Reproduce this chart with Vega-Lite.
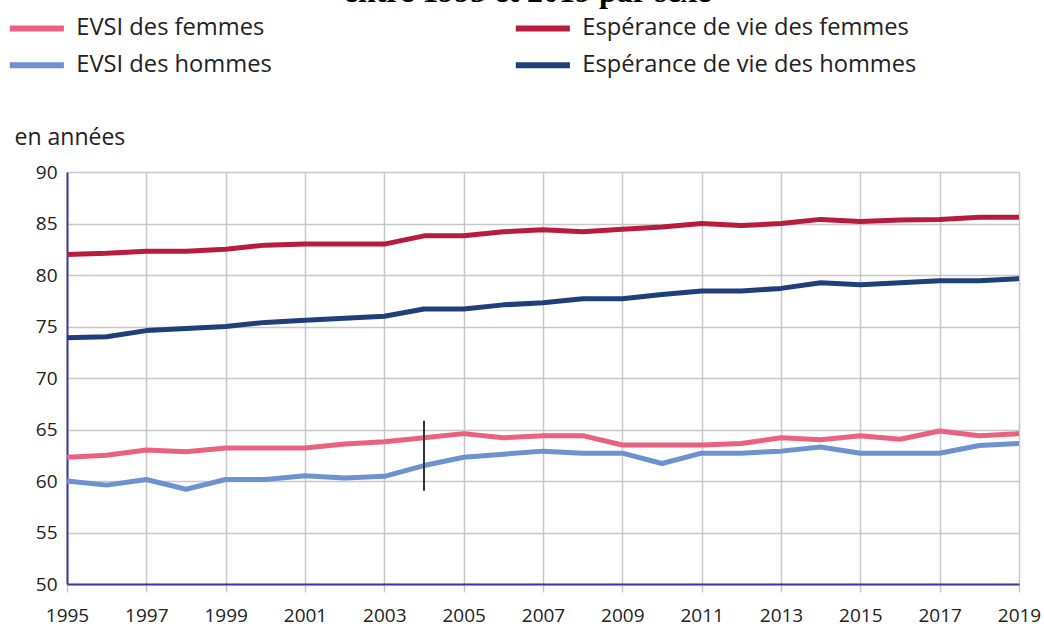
{
  "$schema": "https://vega.github.io/schema/vega-lite/v6.json",
  "width": 952,
  "height": 412,
  "autosize": {"type": "none"},
  "padding": {"left": 67, "top": 172, "right": 25, "bottom": 43},
  "background": "white",
  "config": {
    "view": {"stroke": null},
    "font": "Open Sans",
    "axis": {
      "labelFont": "Open Sans",
      "labelColor": "#222222",
      "labelFontSize": 19,
      "gridColor": "#c8c8c8",
      "gridWidth": 1.5,
      "domainColor": "#3a3a9e",
      "domainWidth": 2
    },
    "legend": {
      "labelFont": "Open Sans",
      "labelFontSize": 23.7,
      "labelColor": "#222222"
    }
  },
  "datasets": {
    "series": [
      {"year": 1995, "serie": "Espérance de vie des femmes", "value": 82.0},
      {"year": 1996, "serie": "Espérance de vie des femmes", "value": 82.1},
      {"year": 1997, "serie": "Espérance de vie des femmes", "value": 82.3},
      {"year": 1998, "serie": "Espérance de vie des femmes", "value": 82.3},
      {"year": 1999, "serie": "Espérance de vie des femmes", "value": 82.5},
      {"year": 2000, "serie": "Espérance de vie des femmes", "value": 82.9},
      {"year": 2001, "serie": "Espérance de vie des femmes", "value": 83.0},
      {"year": 2002, "serie": "Espérance de vie des femmes", "value": 83.0},
      {"year": 2003, "serie": "Espérance de vie des femmes", "value": 83.0},
      {"year": 2004, "serie": "Espérance de vie des femmes", "value": 83.8},
      {"year": 2005, "serie": "Espérance de vie des femmes", "value": 83.8},
      {"year": 2006, "serie": "Espérance de vie des femmes", "value": 84.2},
      {"year": 2007, "serie": "Espérance de vie des femmes", "value": 84.4},
      {"year": 2008, "serie": "Espérance de vie des femmes", "value": 84.2},
      {"year": 2009, "serie": "Espérance de vie des femmes", "value": 84.45},
      {"year": 2010, "serie": "Espérance de vie des femmes", "value": 84.65},
      {"year": 2011, "serie": "Espérance de vie des femmes", "value": 85.0},
      {"year": 2012, "serie": "Espérance de vie des femmes", "value": 84.8},
      {"year": 2013, "serie": "Espérance de vie des femmes", "value": 85.0},
      {"year": 2014, "serie": "Espérance de vie des femmes", "value": 85.4},
      {"year": 2015, "serie": "Espérance de vie des femmes", "value": 85.2},
      {"year": 2016, "serie": "Espérance de vie des femmes", "value": 85.35},
      {"year": 2017, "serie": "Espérance de vie des femmes", "value": 85.4},
      {"year": 2018, "serie": "Espérance de vie des femmes", "value": 85.6},
      {"year": 2019, "serie": "Espérance de vie des femmes", "value": 85.6},
      {"year": 1995, "serie": "Espérance de vie des hommes", "value": 73.9},
      {"year": 1996, "serie": "Espérance de vie des hommes", "value": 74.0},
      {"year": 1997, "serie": "Espérance de vie des hommes", "value": 74.6},
      {"year": 1998, "serie": "Espérance de vie des hommes", "value": 74.8},
      {"year": 1999, "serie": "Espérance de vie des hommes", "value": 75.0},
      {"year": 2000, "serie": "Espérance de vie des hommes", "value": 75.4},
      {"year": 2001, "serie": "Espérance de vie des hommes", "value": 75.6},
      {"year": 2002, "serie": "Espérance de vie des hommes", "value": 75.8},
      {"year": 2003, "serie": "Espérance de vie des hommes", "value": 76.0},
      {"year": 2004, "serie": "Espérance de vie des hommes", "value": 76.7},
      {"year": 2005, "serie": "Espérance de vie des hommes", "value": 76.7},
      {"year": 2006, "serie": "Espérance de vie des hommes", "value": 77.1},
      {"year": 2007, "serie": "Espérance de vie des hommes", "value": 77.3},
      {"year": 2008, "serie": "Espérance de vie des hommes", "value": 77.7},
      {"year": 2009, "serie": "Espérance de vie des hommes", "value": 77.7},
      {"year": 2010, "serie": "Espérance de vie des hommes", "value": 78.1},
      {"year": 2011, "serie": "Espérance de vie des hommes", "value": 78.45},
      {"year": 2012, "serie": "Espérance de vie des hommes", "value": 78.45},
      {"year": 2013, "serie": "Espérance de vie des hommes", "value": 78.7},
      {"year": 2014, "serie": "Espérance de vie des hommes", "value": 79.25},
      {"year": 2015, "serie": "Espérance de vie des hommes", "value": 79.05},
      {"year": 2016, "serie": "Espérance de vie des hommes", "value": 79.25},
      {"year": 2017, "serie": "Espérance de vie des hommes", "value": 79.45},
      {"year": 2018, "serie": "Espérance de vie des hommes", "value": 79.45},
      {"year": 2019, "serie": "Espérance de vie des hommes", "value": 79.65},
      {"year": 1995, "serie": "EVSI des femmes", "value": 62.3},
      {"year": 1996, "serie": "EVSI des femmes", "value": 62.5},
      {"year": 1997, "serie": "EVSI des femmes", "value": 63.0},
      {"year": 1998, "serie": "EVSI des femmes", "value": 62.85},
      {"year": 1999, "serie": "EVSI des femmes", "value": 63.2},
      {"year": 2000, "serie": "EVSI des femmes", "value": 63.2},
      {"year": 2001, "serie": "EVSI des femmes", "value": 63.2},
      {"year": 2002, "serie": "EVSI des femmes", "value": 63.6},
      {"year": 2003, "serie": "EVSI des femmes", "value": 63.8},
      {"year": 2004, "serie": "EVSI des femmes", "value": 64.2},
      {"year": 2005, "serie": "EVSI des femmes", "value": 64.6},
      {"year": 2006, "serie": "EVSI des femmes", "value": 64.2},
      {"year": 2007, "serie": "EVSI des femmes", "value": 64.4},
      {"year": 2008, "serie": "EVSI des femmes", "value": 64.4},
      {"year": 2009, "serie": "EVSI des femmes", "value": 63.5},
      {"year": 2010, "serie": "EVSI des femmes", "value": 63.5},
      {"year": 2011, "serie": "EVSI des femmes", "value": 63.5},
      {"year": 2012, "serie": "EVSI des femmes", "value": 63.65},
      {"year": 2013, "serie": "EVSI des femmes", "value": 64.2},
      {"year": 2014, "serie": "EVSI des femmes", "value": 64.0},
      {"year": 2015, "serie": "EVSI des femmes", "value": 64.4},
      {"year": 2016, "serie": "EVSI des femmes", "value": 64.05},
      {"year": 2017, "serie": "EVSI des femmes", "value": 64.85},
      {"year": 2018, "serie": "EVSI des femmes", "value": 64.4},
      {"year": 2019, "serie": "EVSI des femmes", "value": 64.6},
      {"year": 1995, "serie": "EVSI des hommes", "value": 60.0},
      {"year": 1996, "serie": "EVSI des hommes", "value": 59.6},
      {"year": 1997, "serie": "EVSI des hommes", "value": 60.15},
      {"year": 1998, "serie": "EVSI des hommes", "value": 59.2},
      {"year": 1999, "serie": "EVSI des hommes", "value": 60.15},
      {"year": 2000, "serie": "EVSI des hommes", "value": 60.15},
      {"year": 2001, "serie": "EVSI des hommes", "value": 60.5},
      {"year": 2002, "serie": "EVSI des hommes", "value": 60.3},
      {"year": 2003, "serie": "EVSI des hommes", "value": 60.45},
      {"year": 2004, "serie": "EVSI des hommes", "value": 61.5},
      {"year": 2005, "serie": "EVSI des hommes", "value": 62.3},
      {"year": 2006, "serie": "EVSI des hommes", "value": 62.6},
      {"year": 2007, "serie": "EVSI des hommes", "value": 62.9},
      {"year": 2008, "serie": "EVSI des hommes", "value": 62.7},
      {"year": 2009, "serie": "EVSI des hommes", "value": 62.7},
      {"year": 2010, "serie": "EVSI des hommes", "value": 61.7},
      {"year": 2011, "serie": "EVSI des hommes", "value": 62.7},
      {"year": 2012, "serie": "EVSI des hommes", "value": 62.7},
      {"year": 2013, "serie": "EVSI des hommes", "value": 62.9},
      {"year": 2014, "serie": "EVSI des hommes", "value": 63.3},
      {"year": 2015, "serie": "EVSI des hommes", "value": 62.7},
      {"year": 2016, "serie": "EVSI des hommes", "value": 62.7},
      {"year": 2017, "serie": "EVSI des hommes", "value": 62.7},
      {"year": 2018, "serie": "EVSI des hommes", "value": 63.45},
      {"year": 2019, "serie": "EVSI des hommes", "value": 63.65}
    ],
    "rupture": [
      {"year": 2004, "low": 59.05, "high": 65.85}
    ]
  },
  "layer": [
    {
      "data": {"name": "series"},
      "mark": {"type": "line", "strokeWidth": 5, "strokeCap": "butt", "strokeJoin": "round", "clip": false},
      "encoding": {
        "x": {
          "field": "year",
          "type": "quantitative",
          "scale": {"domain": [1995, 2019], "nice": false, "zero": false},
          "axis": {
            "title": "entre 1995 et 2019 par sexe",
            "titleFont": "Liberation Serif",
            "titleFontSize": 32,
            "titleFontWeight": "bold",
            "titleColor": "#000000",
            "titleAlign": "center",
            "titleAnchor": null,
            "titleBaseline": "alphabetic",
            "titleAngle": 0,
            "titleX": 460,
            "titleY": -583,
            "values": [1995, 1997, 1999, 2001, 2003, 2005, 2007, 2009, 2011, 2013, 2015, 2017, 2019],
            "format": "d",
            "grid": true,
            "ticks": true,
            "tickColor": "#c8c8c8",
            "tickWidth": 1.5,
            "tickSize": 8,
            "labelPadding": 14,
            "labelFlush": false,
            "labelOverlap": false
          }
        },
        "y": {
          "field": "value",
          "type": "quantitative",
          "scale": {"domain": [50, 90], "nice": false, "zero": false},
          "axis": {
            "title": "en années",
            "titleAngle": 0,
            "titleAlign": "left",
            "titleBaseline": "alphabetic",
            "titleX": -53,
            "titleY": -28,
            "titleFont": "Open Sans",
            "titleFontSize": 23,
            "titleFontWeight": "normal",
            "titleColor": "#222222",
            "values": [50, 55, 60, 65, 70, 75, 80, 85, 90],
            "grid": true,
            "ticks": false,
            "labelPadding": 10,
            "labelFlush": false,
            "labelOverlap": false
          }
        },
        "color": {
          "field": "serie",
          "type": "nominal",
          "scale": {
            "domain": ["EVSI des femmes", "EVSI des hommes", "Espérance de vie des femmes", "Espérance de vie des hommes"],
            "range": ["#ea6280", "#6c92d0", "#b71c3e", "#1e407a"]
          },
          "legend": {
            "title": null,
            "orient": "none",
            "legendX": -42,
            "legendY": -155.5,
            "columns": 2,
            "gridAlign": "all",
            "values": ["EVSI des femmes", "EVSI des hommes", "Espérance de vie des femmes", "Espérance de vie des hommes"],
            "symbolType": "M-5,0H5",
            "symbolSize": 117,
            "symbolStrokeWidth": 6,
            "labelOffset": 27.6,
            "columnPadding": 92,
            "rowPadding": 12,
            "labelLimit": 400
          }
        }
      }
    },
    {
      "data": {"name": "rupture"},
      "mark": {"type": "rule", "color": "#333333", "strokeWidth": 2},
      "encoding": {
        "x": {"field": "year", "type": "quantitative"},
        "y": {"field": "low", "type": "quantitative"},
        "y2": {"field": "high"}
      }
    }
  ]
}
